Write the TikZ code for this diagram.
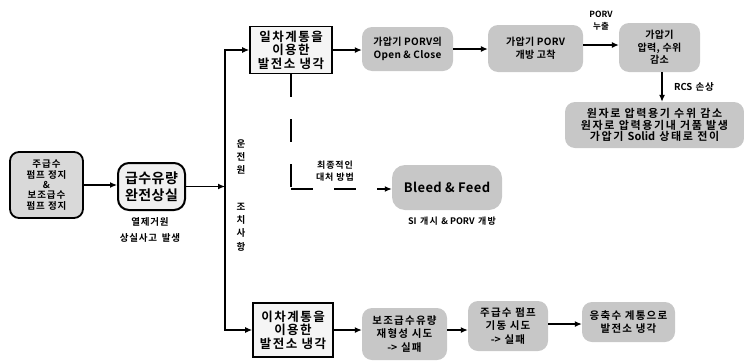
\documentclass[tikz,border=0pt]{standalone}
\usepackage{fontspec}
\setmainfont{Noto Sans CJK KR}[BoldFont={Noto Sans CJK KR Bold}]
\usetikzlibrary{arrows.meta}
\newcommand\myfs[3]{\fontsize{#1}{#2}\selectfont\addfontfeature{LetterSpace=#3}}
\newcommand\lat[1]{{\addfontfeature{LetterSpace=0}#1}}
\begin{document}
\begin{tikzpicture}[x=1pt,y=-1pt,
  every node/.style={align=center, inner sep=0pt},
  arr/.style={line width=1.2pt, -{Latex[length=7pt,width=6pt]}},
  grayb/.style={fill=black!22, rounded corners=10pt},
  sqb/.style={draw, line width=1.6pt, fill=black!4},
  txtA/.style={font=\bfseries\myfs{10}{12.5}{3}},
  txtB/.style={font=\bfseries\myfs{10.5}{13.5}{12}},
  txtS/.style={font=\bfseries\myfs{8.5}{12}{10}},
]
\useasboundingbox (0,0) rectangle (744,362);

% left chain
\node[draw, line width=1.8pt, rounded corners=9pt, fill=black!15, minimum width=73pt, minimum height=66pt, font=\bfseries\myfs{9.5}{10.3}{10}] (b1) at (46.5,185) {주급수\\펌프 정지\\\&\\보조급수\\펌프 정지};
\node[draw, line width=2pt, rounded corners=11pt, fill=black!6, minimum width=67pt, minimum height=47pt, font=\bfseries\myfs{14}{17}{3}] (b2) at (151.5,186.5) {급수유량\\완전상실};
\node[font=\bfseries\myfs{9.5}{16}{8}] (l1) at (150,230) {열제거원\\상실사고\hspace{5pt}발생};
\coordinate (j) at (225,186.5);

% operator action column
\node[font=\bfseries\myfs{9.5}{13.3}{0}] (v1) at (241,157) {운\\전\\원};
\node[font=\bfseries\myfs{9.5}{13.3}{0}] (v2) at (241,227) {조\\치\\사\\항};

% square boxes
\node[sqb, minimum width=82pt, minimum height=47pt, font=\bfseries\myfs{12.5}{13.5}{12}] (tb) at (291,50) {일차계통을\\이용한\\발전소 냉각};
\node[sqb, minimum width=80pt, minimum height=54pt, font=\bfseries\myfs{12.5}{13.5}{12}] (bb) at (293,330) {이차계통을\\이용한\\발전소 냉각};

% top row
\node[grayb, txtA, minimum width=91pt, minimum height=44pt] (g1) at (407.5,49) {가압기 PORV의\\Open \& Close};
\node[grayb, txtA, minimum width=95pt, minimum height=47pt] (g2) at (535.5,48.5) {가압기 PORV\\개방 고착};
\node[grayb, txtA, minimum width=81pt, minimum height=49pt] (g3) at (659.5,47.5) {가압기\\압력, 수위\\감소};
\node[grayb, minimum width=179pt, minimum height=46pt, font=\bfseries\myfs{11}{11.2}{15}] (g4) at (654.5,125) {원자로 압력용기 수위 감소\\원자로 압력용기내 거품 발생\\가압기 \lat{Solid} 상태로 전이};
\node[font=\bfseries\myfs{8.5}{12}{0}] (porv) at (601,21) {PORV\\누출};
\node[font=\bfseries\myfs{9.5}{11}{10}] (rcs) at (694,87) {\lat{RCS} 손상};

% bleed and feed
\node[grayb, rounded corners=13pt, minimum width=110pt, minimum height=45pt, font=\bfseries\myfs{13}{14}{3}] (bf) at (447,187.5) {Bleed \& Feed};
\node[font=\bfseries\myfs{9}{10}{15}] (si) at (452,221) {\lat{SI} 개시 \lat{\& PORV} 개방};
\node[font=\bfseries\myfs{9}{12}{10}] (fin) at (335,171) {최종적인\\대처 방법};
\coordinate (dc) at (291,189);

% bottom row
\node[grayb, txtB, minimum width=85pt, minimum height=52pt] (h1) at (404.5,334) {보조급수유량\\재형성 시도\\\lat{->} 실패};
\node[grayb, txtB, minimum width=80pt, minimum height=50pt] (h2) at (508,326) {주급수 펌프\\기동 시도\\\lat{->} 실패};
\node[grayb, txtB, minimum width=93pt, minimum height=40pt] (h3) at (628.5,322) {응축수 계통으로\\발전소 냉각};

% connectors
\draw[arr] (b1.east |- 0,185) -- (b2.west |- 0,185);
\draw[arr] (b2.east) -- (j);
\draw[arr] (j) |- (tb.west);
\draw[arr] (j) |- (bb.west);
\draw[arr] (tb.east) -- (tb.east -| g1.west);
\draw[arr] (g1.east) -- (g1.east -| g2.west);
\draw[arr] (g2.east |- 0,45) -- (g3.west |- 0,45);
\draw[arr] (g3.south -| 662,0) -- (g4.north -| 662,0);
\draw[line width=1.3pt, dash pattern=on 23pt off 22pt] (tb.south) -- (tb.south |- dc);
\draw[line width=1.3pt, dash pattern=on 22pt off 21pt, -{Latex[length=7pt,width=6pt]}] (dc) -- (dc -| bf.west);
\draw[arr] (bb.east) -- (bb.east -| h1.west);
\draw[arr] (h1.east |- 0,330) -- (h2.west |- 0,330);
\draw[arr] (h2.east |- 0,324) -- (h3.west |- 0,324);
\end{tikzpicture}
\end{document}
